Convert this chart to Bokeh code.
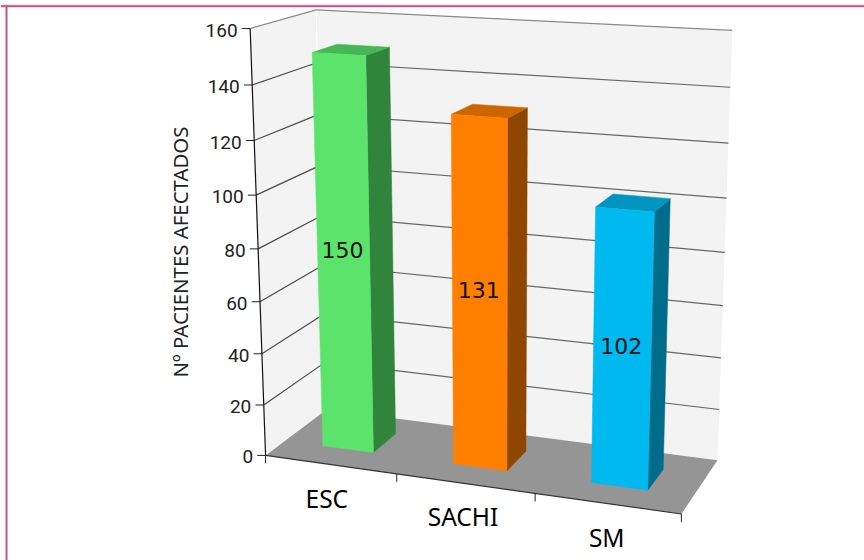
import numpy as np
from bokeh.core.properties import value
from bokeh.embed import file_html
from bokeh.models import Range1d
from bokeh.plotting import figure
from bokeh.resources import INLINE

# Chart data
categories = ["ESC", "SACHI", "SM"]
patients = [150, 131, 102]
value_labels = ["150", "131", "102"]
tick_values = [0, 20, 40, 60, 80, 100, 120, 140, 160]
tick_labels = ["0", "20", "40", "60", "80", "100", "120", "140", "160"]
axis_title = "Nº PACIENTES AFECTADOS"

# Colours per series: front face, side face, top face
face_colors = ["#5ce36c", "#ff7f00", "#00b9ef"]
side_colors = ["#30843b", "#8f4700", "#006c8c"]
top_colors = ["#47b654", "#cc6600", "#0094c0"]

VMAX = 160.0
BAR_HALF_WIDTH = 0.0655
BAR_SHIFT = -0.0025
BAR_DEPTH = (0.31, 0.705)

# Calibration of the perspective camera: (along, depth, height) -> screen pixel
frame_3d = np.array([
    (0, 0, 0), (1, 0, 0), (0, 0, 1), (0, 1, 1), (1, 1, 1), (1, 1, 0), (0, 1, 0),
    (1 / 3, 0, 0), (2 / 3, 0, 0), (0, 0, 0.5),
], dtype=float)
frame_px = np.array([
    (265, 455.5), (681, 513), (250, 28), (315, 9.5), (732, 30), (717, 460), (326.5, 408.6),
    (396, 473.5), (534.3, 493), (257.8, 248),
], dtype=float)


def solve_camera(world, pixels):
    rows, rhs = [], []
    for (a, b, c), (x, y) in zip(world, pixels):
        rows.append([a, b, c, 1, 0, 0, 0, 0, -x * a, -x * b, -x * c])
        rhs.append(x)
        rows.append([0, 0, 0, 0, a, b, c, 1, -y * a, -y * b, -y * c])
        rhs.append(y)
    sol = np.linalg.lstsq(np.array(rows), np.array(rhs), rcond=None)[0]
    return np.append(sol, 1.0).reshape(3, 4)


CAMERA = solve_camera(frame_3d, frame_px)


def project(u, d, v):
    h = CAMERA @ np.array([u, d, v / VMAX, 1.0])
    return h[0] / h[2], h[1] / h[2]


def poly(points):
    xy = [project(*pt) for pt in points]
    return [q[0] for q in xy], [q[1] for q in xy]


p = figure(width=864, height=560, output_backend="svg", toolbar_location=None,
           x_range=Range1d(0, 864), y_range=Range1d(560, 0),
           x_axis_location=None, y_axis_location=None,
           min_border=0, outline_line_color=None, background_fill_color="white")
p.grid.visible = False

# Page rule along the top and left
p.segment([0], [4.6], [864], [4.6], line_color="#e6bdd2", line_width=1)
p.segment([0], [5.8], [864], [5.8], line_color="#b9578b", line_width=2)
p.segment([6], [5], [6], [560], line_color="#b9578b", line_width=2)

# Walls and floor
wx, wy = poly([(0, 0, VMAX), (0, 1, VMAX), (0, 1, 0), (0, 0, 0)])
p.patch(wx, wy, fill_color="#f3f3f3", line_color=None)
wx, wy = poly([(0, 1, VMAX), (1, 1, VMAX), (1, 1, 0), (0, 1, 0)])
p.patch(wx, wy, fill_color="#f3f3f3", line_color=None)
fx, fy = poly([(0, 0, 0), (0, 1, 0), (1, 1, 0), (1, 0, 0)])
p.patch(fx, fy, fill_color="#959595", line_color=None)

# Corner between the two walls
cx, cy = poly([(0, 1, VMAX), (0, 1, 0)])
p.line(cx, cy, line_color="#ffffff", line_width=1)

# Gridlines across both walls
for t in tick_values[1:]:
    gx, gy = poly([(0, 0, t), (0, 1, t)])
    p.line(gx, gy, line_color="#4a4a4a" if t < VMAX else "#8a8a8a", line_width=1.2)
    gx, gy = poly([(0, 1, t), (1, 1, t)])
    p.line(gx, gy, line_color="#666666" if t < VMAX else "#8a8a8a", line_width=1.2)

# Bars, each drawn as its three visible faces
n = len(categories)
for i, val in enumerate(patients):
    c = (i + 0.5) / n + BAR_SHIFT
    u0, u1 = c - BAR_HALF_WIDTH, c + BAR_HALF_WIDTH
    d0, d1 = BAR_DEPTH
    sx, sy = poly([(u1, d0, 0), (u1, d1, 0), (u1, d1, val), (u1, d0, val)])
    p.patch(sx, sy, fill_color=side_colors[i], line_color=side_colors[i], line_width=0.5)
    tx, ty = poly([(u0, d0, val), (u0, d1, val), (u1, d1, val), (u1, d0, val)])
    p.patch(tx, ty, fill_color=top_colors[i], line_color=top_colors[i], line_width=0.5)
    fx, fy = poly([(u0, d0, 0), (u1, d0, 0), (u1, d0, val), (u0, d0, val)])
    p.patch(fx, fy, fill_color=face_colors[i], line_color=face_colors[i], line_width=0.5)
    # The value sits at the centre of the front face as seen on screen
    lx, ly = np.mean(fx), np.mean(fy)
    p.text([lx - 1], [ly - 1.5], text=[value_labels[i]], text_font=value("DejaVu Sans"),
           text_font_size="22px", text_color="#111111",
           text_align="center", text_baseline="middle")

# Value axis with its ticks and labels
ax, ay = poly([(0, 0, 0), (0, 0, VMAX)])
p.line(ax, ay, line_color="#111111", line_width=1.2)
for t, lab in zip(tick_values, tick_labels):
    x, y = project(0, 0, t)
    p.segment([x - 8.3], [y], [x], [y], line_color="#222222", line_width=1)
    p.text([x - 12.5], [y + 1.5], text=[lab], text_font=value("Roboto"),
           text_font_size="19px", text_color="#222222",
           text_align="right", text_baseline="middle")

# Category axis with its ticks and labels
bx, by = poly([(0, 0, 0), (1, 0, 0)])
p.line(bx, by, line_color="#333333", line_width=1.2)
for k in range(n + 1):
    x, y = project(k / n, 0, 0)
    p.segment([x], [y], [x], [y + 8], line_color="#222222", line_width=1)
for i, name in enumerate(categories):
    x, y = project((i + 0.5) / n, 0, 0)
    p.text([x + 1.5 * i - 3.5], [y + 33.5], text=[name], text_font=value("Noto Sans"),
           text_font_size="24.5px", text_color="#000000",
           text_align="center", text_baseline="middle")

# Rotated axis title
p.text([179.5], [251.5], text=[axis_title], angle=np.pi / 2, text_font=value("Noto Sans"),
       text_font_size="20.4px", text_color="#222222",
       text_align="center", text_baseline="middle")

open("out.html", "w").write(file_html(p, INLINE))
